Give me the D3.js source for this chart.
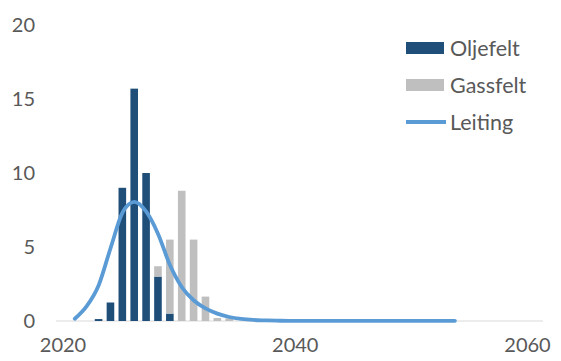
<!DOCTYPE html>
<html>
<head>
<meta charset="utf-8">
<script src="https://cdn.jsdelivr.net/npm/d3@7"></script>
<style>
  html, body { margin: 0; padding: 0; background: #fff; }
  svg { display: block; }
  text { font-family: Lato, "Noto Sans", sans-serif; fill: #595959; }
</style>
</head>
<body>
<svg id="chart" width="561" height="361"></svg>
<script>
// Field start-ups per year (Oljefelt, Gassfelt) and the expected discoveries curve (Leiting)
const years = d3.range(2020, 2061);
const barYears = [2023, 2024, 2025, 2026, 2027, 2028, 2029, 2030, 2031, 2032, 2033, 2034];
const oljefelt = [0.13, 1.25, 9.0, 15.7, 10.0, 3.0, 0.5, 0, 0, 0, 0, 0];
const gassfelt = [0, 0, 0, 0, 0, 0.7, 5.0, 8.8, 5.5, 1.65, 0.2, 0.18];
const leitingYears = [2021, 2022, 2023, 2024, 2025, 2026, 2027, 2028, 2029, 2030, 2031,
  2032, 2033, 2034, 2035, 2036, 2037, 2038, 2039, 2040, 2041, 2042, 2043, 2044, 2045,
  2046, 2047, 2048, 2049, 2050, 2051, 2052, 2053];
const leiting = [0.15, 1.0, 2.4, 4.9, 7.3, 8.05, 7.4, 5.9, 3.8, 2.3, 1.4, 0.85, 0.5,
  0.27, 0.14, 0.07, 0.04, 0.02, 0.01, 0.01, 0.01, 0.01, 0.01, 0.01, 0.01, 0.01, 0.01,
  0.01, 0.01, 0.01, 0.01, 0.01, 0.01];
const xTickValues = [2020, 2040, 2060];
const yTickValues = [0, 5, 10, 15, 20];
const seriesNames = ["Oljefelt", "Gassfelt", "Leiting"];
const colors = { Oljefelt: "#1F4E79", Gassfelt: "#BFBFBF", Leiting: "#5B9BD5" };

const svg = d3.select("#chart");

const x = d3.scaleBand().domain(years).range([57, 544]).paddingInner(0.36).paddingOuter(0.18);
const xLabel = d3.scaleLinear().domain([2020, 2060]).range([62.5, 527]);
const y = d3.scaleLinear().domain([0, 20]).range([321, 25]);

// Baseline
svg.append("line")
  .attr("x1", 56).attr("x2", 543)
  .attr("y1", y(0)).attr("y2", y(0))
  .attr("stroke", "#D9D9D9").attr("stroke-width", 1);

// Y axis labels
const yAxis = svg.append("g")
  .attr("transform", "translate(56,0)")
  .call(d3.axisLeft(y).tickValues(yTickValues).tickSize(0).tickPadding(21));
yAxis.select(".domain").remove();
yAxis.selectAll("text").style("font-size", "20px").attr("font-family", null).attr("fill", "#595959");

// X axis labels
const xAxis = svg.append("g")
  .attr("transform", `translate(0,${y(0)})`)
  .call(d3.axisBottom(xLabel).tickValues(xTickValues).tickFormat(d3.format("d")).tickSize(0).tickPadding(17));
xAxis.select(".domain").remove();
xAxis.selectAll("text").style("font-size", "20px").attr("font-family", null).attr("fill", "#595959");

// Stacked columns: oil at the bottom, gas on top
const table = barYears.map((yr, i) => ({ year: yr, Oljefelt: oljefelt[i], Gassfelt: gassfelt[i] }));
const stacked = d3.stack().keys(["Oljefelt", "Gassfelt"])(table);

svg.append("g").selectAll("g")
  .data(stacked)
  .join("g")
  .attr("fill", d => colors[d.key])
  .selectAll("rect")
  .data(d => d.filter(p => p[1] - p[0] > 0))
  .join("rect")
  .attr("x", d => x(d.data.year))
  .attr("width", x.bandwidth())
  .attr("y", d => y(d[1]))
  .attr("height", d => y(d[0]) - y(d[1]));

// Leiting curve (smoothed line)
const line = d3.line()
  .x((d, i) => x(leitingYears[i]) + x.bandwidth() / 2)
  .y(d => y(d))
  .curve(d3.curveCatmullRom.alpha(0));

svg.append("path")
  .datum(leiting)
  .attr("d", line)
  .attr("fill", "none")
  .attr("stroke", colors.Leiting)
  .attr("stroke-width", 3.8)
  .attr("stroke-linecap", "round")
  .attr("stroke-linejoin", "round");

// Legend
const legend = svg.append("g").attr("transform", "translate(406,48)");
seriesNames.forEach((name, i) => {
  const g = legend.append("g").attr("transform", `translate(0,${i * 37})`);
  if (name === "Leiting") {
    g.append("line").attr("x1", 0).attr("x2", 40).attr("y1", 0).attr("y2", 0)
      .attr("stroke", colors[name]).attr("stroke-width", 3.8);
  } else {
    g.append("rect").attr("x", 0).attr("y", -6).attr("width", 38).attr("height", 12)
      .attr("fill", colors[name]);
  }
  g.append("text").attr("x", 44).attr("y", 0).attr("dy", "0.35em")
    .style("font-size", "21.5px").text(name);
});
</script>
</body>
</html>
